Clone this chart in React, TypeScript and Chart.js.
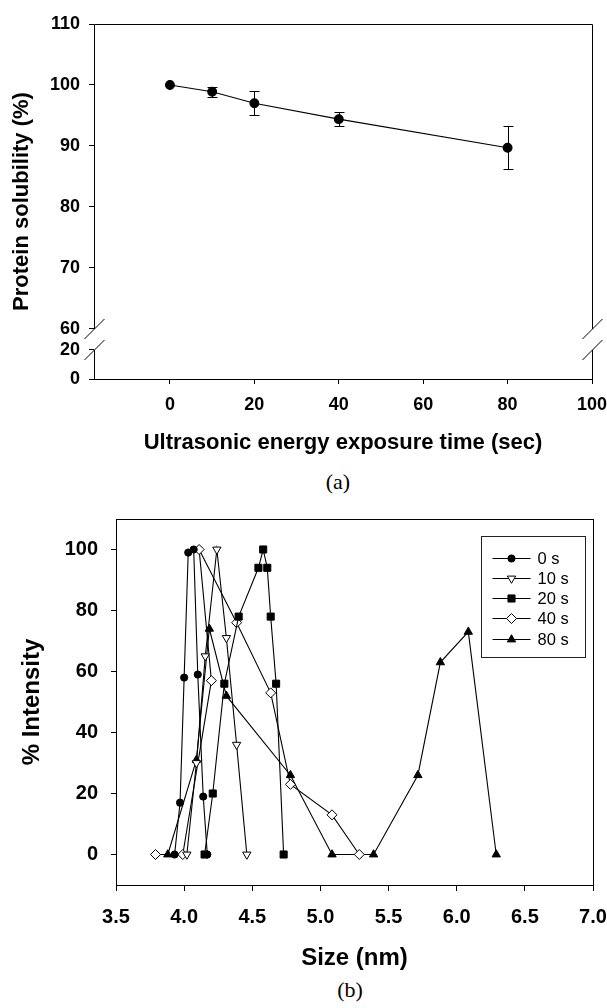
import React, { useEffect, useRef } from 'react';
import { Chart, registerables } from 'chart.js';

Chart.register(...registerables);

const SANS = "'Liberation Sans', Arial, Helvetica, sans-serif";
const SERIF = "'Liberation Serif', 'Times New Roman', serif";

// ---------- Chart (a) data ----------
const timeSec = [0, 10, 20, 40, 80];
const solubility = [100, 98.9, 97.0, 94.4, 89.7];
const solubilityErr = [0, 0.8, 2.0, 1.15, 3.5];
const aXTicks = [0, 20, 40, 60, 80, 100];
const aYTicks = [0, 20, 60, 70, 80, 90, 100, 110];

// axis break: 0..20 squeezed below 60
const BREAK_LOW = 20;
const BREAK_HIGH = 60;
const LOW_BASE = 51.8; // axis coordinate of 0
const LOW_TOP = 56.56; // axis coordinate of 20

function mapY(v: number): number {
  if (v >= BREAK_HIGH) return v;
  if (v <= BREAK_LOW) return LOW_BASE + (v * (LOW_TOP - LOW_BASE)) / BREAK_LOW;
  return LOW_TOP + ((v - BREAK_LOW) * (BREAK_HIGH - LOW_TOP)) / (BREAK_HIGH - BREAK_LOW);
}
function unmapY(a: number): number {
  if (a >= BREAK_HIGH) return a;
  if (a <= LOW_TOP) return ((a - LOW_BASE) * BREAK_LOW) / (LOW_TOP - LOW_BASE);
  return BREAK_LOW + ((a - LOW_TOP) * (BREAK_HIGH - BREAK_LOW)) / (BREAK_HIGH - LOW_TOP);
}

// ---------- Chart (b) data ----------
const seriesLabels = ['0 s', '10 s', '20 s', '40 s', '80 s'];
const size0 = [3.93, 3.97, 4.0, 4.03, 4.07, 4.1, 4.14, 4.17];
const int0 = [0, 17, 58, 99, 100, 59, 19, 0];
const size10 = [4.02, 4.09, 4.155, 4.24, 4.31, 4.385, 4.46];
const int10 = [0, 30, 65, 100, 71, 36, 0];
const size20 = [4.15, 4.21, 4.295, 4.4, 4.545, 4.58, 4.61, 4.635, 4.675, 4.73];
const int20 = [0, 20, 56, 78, 94, 100, 94, 78, 56, 0];
const size40 = [3.79, 3.99, 4.2, 4.11, 4.385, 4.635, 4.78, 5.085, 5.285];
const int40 = [0, 0, 57, 100, 76, 53, 23, 13, 0];
const size80 = [3.88, 4.09, 4.185, 4.31, 4.78, 5.085, 5.39, 5.715, 5.88, 6.085, 6.29];
const int80 = [0, 31, 74, 52, 26, 0, 0, 26, 63, 73, 0];
const bXTicks = [3.5, 4.0, 4.5, 5.0, 5.5, 6.0, 6.5, 7.0];
const bYTicks = [0, 20, 40, 60, 80, 100];

const seriesSizes = [size0, size10, size20, size40, size80];
const seriesInts = [int0, int10, int20, int40, int80];
const seriesStyles = [
  { pointStyle: 'circle', radius: 3.6, rotation: 0, fill: '#000' },
  { pointStyle: 'triangle', radius: 4.8, rotation: 180, fill: '#fff' },
  { pointStyle: 'rect', radius: 5, rotation: 0, fill: '#000' },
  { pointStyle: 'rectRot', radius: 5, rotation: 0, fill: '#fff' },
  { pointStyle: 'triangle', radius: 4.8, rotation: 0, fill: '#000' },
];

function drawMarker(ctx: CanvasRenderingContext2D, style: any, x: number, y: number) {
  const r = style.radius;
  let rad = (style.rotation * Math.PI) / 180;
  ctx.beginPath();
  if (style.pointStyle === 'circle') {
    ctx.arc(x, y, r, 0, Math.PI * 2);
  } else if (style.pointStyle === 'triangle') {
    const T = (2 * Math.PI) / 3;
    ctx.moveTo(x + Math.sin(rad) * r, y - Math.cos(rad) * r);
    rad += T;
    ctx.lineTo(x + Math.sin(rad) * r, y - Math.cos(rad) * r);
    rad += T;
    ctx.lineTo(x + Math.sin(rad) * r, y - Math.cos(rad) * r);
    ctx.closePath();
  } else if (style.pointStyle === 'rect') {
    const s = r * Math.SQRT1_2;
    ctx.rect(x - s, y - s, 2 * s, 2 * s);
  } else if (style.pointStyle === 'rectRot') {
    ctx.moveTo(x, y - r);
    ctx.lineTo(x + r, y);
    ctx.lineTo(x, y + r);
    ctx.lineTo(x - r, y);
    ctx.closePath();
  }
  ctx.fillStyle = style.fill;
  ctx.fill();
  ctx.strokeStyle = '#000';
  ctx.lineWidth = 1;
  ctx.stroke();
}

const crisp = (v: number) => Math.round(v) + 0.5;

function ChartA() {
  const ref = useRef<HTMLCanvasElement>(null);
  useEffect(() => {
    const errorBars = {
      id: 'errorBars',
      beforeDatasetsDraw(chart: any) {
        const { ctx } = chart;
        const xs = chart.scales.x;
        const ys = chart.scales.y;
        ctx.save();
        ctx.strokeStyle = '#000';
        ctx.lineWidth = 1;
        timeSec.forEach((t, i) => {
          const e = solubilityErr[i];
          if (!e) return;
          const x = crisp(xs.getPixelForValue(t));
          const yt = Math.round(ys.getPixelForValue(mapY(solubility[i] + e))) + 0.5;
          const yb = Math.round(ys.getPixelForValue(mapY(solubility[i] - e))) + 0.5;
          ctx.beginPath();
          ctx.moveTo(x, yt);
          ctx.lineTo(x, yb);
          ctx.moveTo(x - 5, yt);
          ctx.lineTo(x + 5, yt);
          ctx.moveTo(x - 5, yb);
          ctx.lineTo(x + 5, yb);
          ctx.stroke();
        });
        ctx.restore();
      },
    };
    const frame = {
      id: 'frameBreak',
      afterDraw(chart: any) {
        const { ctx, chartArea } = chart;
        const ys = chart.scales.y;
        const y60 = ys.getPixelForValue(mapY(BREAK_HIGH));
        const y20 = ys.getPixelForValue(mapY(BREAK_LOW));
        const L = crisp(chartArea.left);
        const R = crisp(chartArea.right);
        const T = crisp(chartArea.top);
        const B = chartArea.bottom;
        ctx.save();
        ctx.strokeStyle = '#000';
        ctx.lineWidth = 1;
        ctx.beginPath();
        ctx.moveTo(L, T);
        ctx.lineTo(R, T);
        [L, R].forEach((x) => {
          ctx.moveTo(x, T);
          ctx.lineTo(x, y60);
          ctx.moveTo(x, y20);
          ctx.lineTo(x, B);
          [y60, y20].forEach((yc) => {
            ctx.moveTo(x - 10, yc + 10);
            ctx.lineTo(x + 10, yc - 10);
          });
        });
        ctx.stroke();
        ctx.restore();
      },
    };
    const chart = new Chart(ref.current as HTMLCanvasElement, {
      type: 'scatter',
      data: {
        datasets: [
          {
            label: 'solubility',
            data: timeSec.map((t, i) => ({ x: t, y: mapY(solubility[i]) })),
            showLine: true,
            borderColor: '#000',
            borderWidth: 1.1,
            pointStyle: 'circle',
            pointRadius: 4.4,
            pointBackgroundColor: '#000',
            pointBorderColor: '#000',
          },
        ],
      },
      options: {
        responsive: false,
        animation: false,
        events: [],
        layout: { padding: { top: 24, right: 15, left: 0, bottom: 0 } },
        plugins: { legend: { display: false }, tooltip: { enabled: false } },
        scales: {
          x: {
            type: 'linear',
            min: -18,
            max: 100,
            afterBuildTicks: (s: any) => {
              s.ticks = aXTicks.map((v) => ({ value: v }));
            },
            afterFit: (s: any) => {
              s.height = 86;
              s.paddingLeft = 0;
              s.paddingRight = 0;
            },
            grid: { drawOnChartArea: false, drawTicks: true, tickLength: 5, color: '#000' },
            border: { display: true, color: '#000' },
            ticks: {
              color: '#000',
              padding: 10.2,
              maxRotation: 0,
              autoSkip: false,
              font: { family: SANS, size: 18, weight: 'bold' },
              callback: (v: any) => String(v),
            },
            title: {
              display: true,
              text: 'Ultrasonic energy exposure time (sec)',
              color: '#000',
              font: { family: SANS, size: 22, weight: 'bold' },
              padding: { top: 0, bottom: 8.8 },
            },
          },
          y: {
            type: 'linear',
            min: LOW_BASE,
            max: 110,
            afterBuildTicks: (s: any) => {
              s.ticks = aYTicks.map((v) => ({ value: mapY(v) }));
            },
            afterFit: (s: any) => {
              s.width = 94;
              s.paddingTop = 0;
              s.paddingBottom = 0;
            },
            grid: { drawOnChartArea: false, drawTicks: true, tickLength: 5, color: '#000' },
            border: { display: false },
            ticks: {
              color: '#000',
              padding: 9,
              autoSkip: false,
              font: { family: SANS, size: 18, weight: 'bold' },
              callback: (v: any) => String(Math.round(unmapY(Number(v)))),
            },
            title: {
              display: true,
              text: 'Protein solubility (%)',
              color: '#000',
              font: { family: SANS, size: 22, weight: 'bold' },
              padding: { top: 9, bottom: 0 },
            },
          },
        },
      },
      plugins: [errorBars, frame],
    } as any);
    return () => chart.destroy();
  }, []);
  return (
    <canvas
      ref={ref}
      width={607}
      height={465}
      style={{ position: 'absolute', left: 0, top: 0, width: 607, height: 465, display: 'block' }}
    />
  );
}

function ChartB() {
  const ref = useRef<HTMLCanvasElement>(null);
  useEffect(() => {
    const frameLegend = {
      id: 'frameLegend',
      afterDraw(chart: any) {
        const { ctx, chartArea } = chart;
        const L = crisp(chartArea.left);
        const R = crisp(chartArea.right);
        const T = crisp(chartArea.top);
        const B = crisp(chartArea.bottom);
        ctx.save();
        ctx.strokeStyle = '#000';
        ctx.lineWidth = 1;
        ctx.strokeRect(L, T, R - L, B - T);
        // legend
        const boxR = Math.round(chartArea.right - 8) + 0.5;
        const boxL = boxR - 104;
        const boxT = Math.round(chartArea.top + 17) + 0.5;
        const boxB = boxT + 121;
        ctx.strokeStyle = '#222';
        ctx.strokeRect(boxL, boxT, boxR - boxL, boxB - boxT);
        ctx.font = `16.5px ${SANS}`;
        ctx.textBaseline = 'middle';
        ctx.textAlign = 'left';
        seriesLabels.forEach((lab, i) => {
          const y = Math.round(boxT + 21 + i * 20.25);
          ctx.strokeStyle = '#000';
          ctx.lineWidth = 1;
          ctx.beginPath();
          ctx.moveTo(boxL + 11, y + 0.5);
          ctx.lineTo(boxL + 49, y + 0.5);
          ctx.stroke();
          drawMarker(ctx, seriesStyles[i], boxL + 30, y + 0.5);
          ctx.fillStyle = '#000';
          ctx.fillText(lab, boxL + 56, y + 1);
        });
        ctx.restore();
      },
    };
    const datasets = seriesLabels.map((lab, i) => ({
      label: lab,
      data: seriesSizes[i].map((s, j) => ({ x: s, y: seriesInts[i][j] })),
      showLine: true,
      borderColor: '#000',
      borderWidth: 1.1,
      pointStyle: seriesStyles[i].pointStyle,
      pointRadius: seriesStyles[i].radius,
      pointRotation: seriesStyles[i].rotation,
      pointBackgroundColor: seriesStyles[i].fill,
      pointBorderColor: '#000',
      pointBorderWidth: 1,
    }));
    const chart = new Chart(ref.current as HTMLCanvasElement, {
      type: 'scatter',
      data: { datasets },
      options: {
        responsive: false,
        animation: false,
        events: [],
        layout: { padding: { top: 54, right: 14, left: 0, bottom: 0 } },
        plugins: { legend: { display: false }, tooltip: { enabled: false } },
        scales: {
          x: {
            type: 'linear',
            min: 3.5,
            max: 7.0,
            afterBuildTicks: (s: any) => {
              s.ticks = bXTicks.map((v) => ({ value: v }));
            },
            afterFit: (s: any) => {
              s.height = 90;
              s.paddingLeft = 0;
              s.paddingRight = 0;
            },
            grid: { drawOnChartArea: false, drawTicks: true, tickLength: 6, color: '#000' },
            border: { display: false },
            ticks: {
              color: '#000',
              padding: 14,
              maxRotation: 0,
              autoSkip: false,
              font: { family: SANS, size: 20, weight: 'bold' },
              callback: (v: any) => Number(v).toFixed(1),
            },
            title: {
              display: true,
              text: 'Size (nm)',
              color: '#000',
              font: { family: SANS, size: 24, weight: 'bold' },
              padding: { top: 0, bottom: 2.6 },
            },
          },
          y: {
            type: 'linear',
            min: -10,
            max: 110,
            afterBuildTicks: (s: any) => {
              s.ticks = bYTicks.map((v) => ({ value: v }));
            },
            afterFit: (s: any) => {
              s.width = 116;
              s.paddingTop = 0;
              s.paddingBottom = 0;
            },
            grid: { drawOnChartArea: false, drawTicks: true, tickLength: 5, color: '#000' },
            border: { display: false },
            ticks: {
              color: '#000',
              padding: 13,
              autoSkip: false,
              font: { family: SANS, size: 20, weight: 'bold' },
              callback: (v: any) => String(v),
            },
            title: {
              display: true,
              text: '% Intensity',
              color: '#000',
              font: { family: SANS, size: 24, weight: 'bold' },
              padding: { top: 17.6, bottom: 0 },
            },
          },
        },
      },
      plugins: [frameLegend],
    } as any);
    return () => chart.destroy();
  }, []);
  return (
    <canvas
      ref={ref}
      width={607}
      height={510}
      style={{ position: 'absolute', left: 0, top: 465, width: 607, height: 510, display: 'block' }}
    />
  );
}

export default function App() {
  const caption = (text: string, cx: number, cy: number) => (
    <div
      style={{
        position: 'absolute',
        left: 0,
        width: cx * 2,
        top: cy - 12,
        height: 24,
        lineHeight: '24px',
        textAlign: 'center',
        fontFamily: SERIF,
        fontSize: 22,
        color: '#000',
      }}
    >
      {text}
    </div>
  );
  return (
    <div
      style={{
        position: 'absolute',
        left: 0,
        top: 0,
        width: 607,
        height: 1008,
        background: '#fff',
        overflow: 'hidden',
      }}
    >
      <ChartA />
      {caption('(a)', 338, 482)}
      <ChartB />
      {caption('(b)', 350, 990)}
    </div>
  );
}
